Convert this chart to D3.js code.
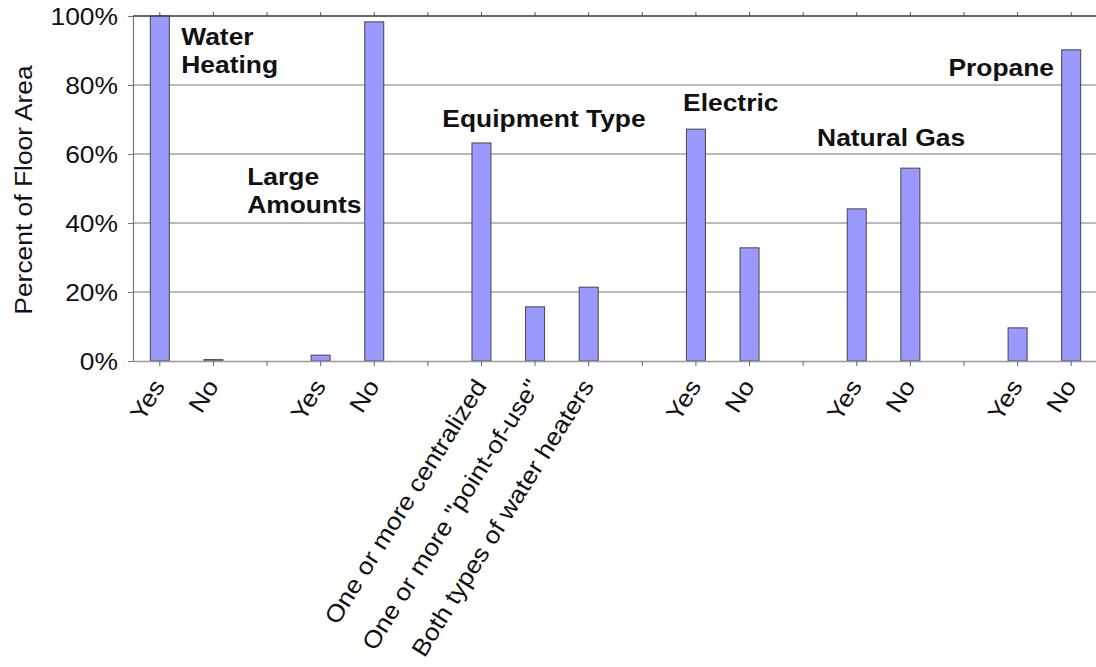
<!DOCTYPE html>
<html>
<head>
<meta charset="utf-8">
<script src="https://cdn.jsdelivr.net/npm/d3@7"></script>
<style>
  html, body { margin: 0; padding: 0; background: #fff; }
  svg { display: block; font-family: "Liberation Sans", Arial, sans-serif; }
</style>
</head>
<body>
<svg id="chart" width="1096" height="667"></svg>
<script>
// ---- data ----
const categories = ["Yes", "No", "", "Yes", "No", "",
  "One or more centralized", "One or more \"point-of-use\"", "Both types of water heaters", "",
  "Yes", "No", "", "Yes", "No", "", "Yes", "No"];
const values = [100, 0.4, null, 1.7, 98.3, null,
  63.2, 15.7, 21.4, null,
  67.2, 32.8, null, 44.1, 55.9, null, 9.6, 90.2];
const yTicks = [0, 20, 40, 60, 80, 100];
const groupNames = [["Water", "Heating"], ["Large", "Amounts"], ["Equipment Type"], ["Electric"], ["Natural Gas"], ["Propane"]];
const groupSlots = [0.9, 2.13, 5.77, 10.26, 12.76, 17.18];
const groupLevels = [91.6, 51.0, 67.8, 72.5, 62.3, 82.6];
const groupAnchors = ["start", "start", "start", "start", "start", "end"];

// ---- layout ----
const svg = d3.select("#chart");
const mLeft = 133, mRight = 1098, mTop = 16, mBottom = 361;
const FS = 24, SX = 1.1;   // font size and horizontal text stretch

const x = d3.scaleBand().domain(d3.range(categories.length)).range([mLeft, mRight]).padding(0);
const y = d3.scaleLinear().domain([0, 100]).range([mBottom, mTop]);
const barW = 19;
const cx = i => x(i) + x.bandwidth() / 2;
const slotX = s => mLeft + s * x.bandwidth();

// gridlines
svg.append("g").selectAll("line").data(yTicks.filter(d => d > 0)).join("line")
  .attr("x1", mLeft).attr("x2", mRight)
  .attr("y1", d => y(d)).attr("y2", d => y(d))
  .attr("stroke", d => d === 100 ? "#444" : "#777").attr("stroke-width", 1.2);

// top ticks (secondary axis look)
svg.append("g").selectAll("line").data(d3.range(categories.length)).join("line")
  .attr("x1", d => cx(d)).attr("x2", d => cx(d))
  .attr("y1", mTop - 4).attr("y2", mTop)
  .attr("stroke", "#555").attr("stroke-width", 1);

// bars
svg.append("g").selectAll("rect").data(values.map((v, i) => ({ v, i })).filter(d => d.v !== null)).join("rect")
  .attr("x", d => cx(d.i) - barW / 2)
  .attr("width", barW)
  .attr("y", d => y(d.v))
  .attr("height", d => y(0) - y(d.v))
  .attr("fill", "#9999FF")
  .attr("stroke", "#444")
  .attr("stroke-width", 1);

// top border
svg.append("line").attr("x1", mLeft).attr("x2", mRight).attr("y1", mTop).attr("y2", mTop)
  .attr("stroke", "#333").attr("stroke-width", 1.2);

// y axis
const yAxis = d3.axisLeft(y).tickValues(yTicks).tickFormat(d => d + "%").tickSize(5).tickPadding(6);
const gy = svg.append("g").attr("transform", `translate(${mLeft},0)`).call(yAxis);
gy.select(".domain").attr("stroke", "#777").attr("stroke-width", 1.2);
gy.selectAll(".tick line").attr("stroke", "#777");
gy.selectAll(".tick text").attr("font-size", FS).attr("fill", "#111")
  .attr("font-family", "Liberation Sans, Arial, sans-serif")
  .attr("x", 0).attr("dy", "0.36em")
  .attr("transform", `translate(-15,0) scale(${SX},1)`);

// x axis
const xAxis = d3.axisBottom(x).tickFormat(i => categories[i]).tickSize(5).tickSizeOuter(0).tickPadding(0);
const gx = svg.append("g").attr("transform", `translate(0,${mBottom})`).call(xAxis);
gx.select(".domain").attr("stroke", "#999").attr("stroke-width", 1.5);
gx.selectAll(".tick line").attr("stroke", "#666");
gx.selectAll(".tick text")
  .attr("font-size", FS).attr("fill", "#111")
  .attr("font-family", "Liberation Sans, Arial, sans-serif")
  .attr("text-anchor", "end")
  .attr("y", 0).attr("dy", 0)
  .attr("transform", `translate(6,25) rotate(-58) scale(${SX},1)`);

// y title
svg.append("text")
  .attr("transform", `translate(32,190) rotate(-90) scale(${SX},1)`)
  .attr("text-anchor", "middle")
  .attr("font-size", FS).attr("fill", "#111")
  .text("Percent of Floor Area");

// group annotations
const ann = svg.append("g").attr("font-weight", "bold").attr("font-size", FS).attr("fill", "#111");
groupNames.forEach((lines, gi) => {
  const t = ann.append("text")
    .attr("transform", `translate(${slotX(groupSlots[gi])},${y(groupLevels[gi])}) scale(${SX},1)`)
    .attr("text-anchor", groupAnchors[gi]);
  lines.forEach((ln, k) => {
    t.append("tspan").attr("x", 0).attr("dy", k === 0 ? 0 : 28).text(ln);
  });
});
</script>
</body>
</html>
